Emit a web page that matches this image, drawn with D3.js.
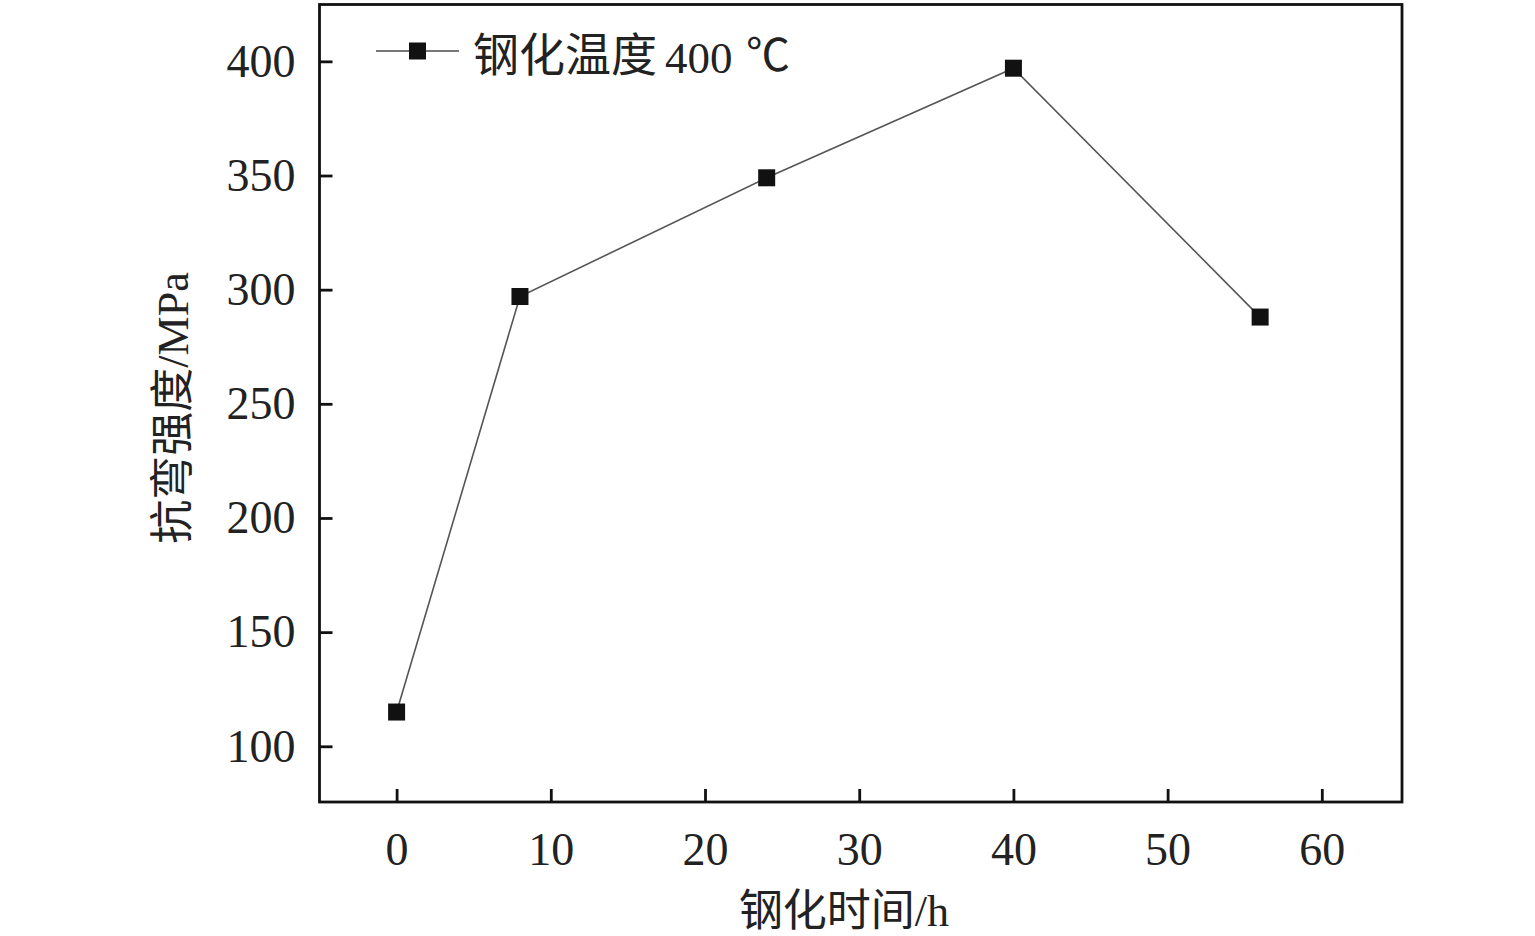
<!DOCTYPE html>
<html><head><meta charset="utf-8">
<script src="https://cdn.jsdelivr.net/npm/d3@7"></script>
<style>body{margin:0;background:#fff}svg{display:block}</style>
</head><body>
<svg id="c" width="1535" height="936"></svg>
<script>
const timeH = [0, 8, 24, 40, 56];
const strength = [115, 297, 349, 397, 288];
const xTicks = [0, 10, 20, 30, 40, 50, 60];
const yTicks = [100, 150, 200, 250, 300, 350, 400];
const seriesName = ["钢化温度", "400", "℃"];
const xTitle = "钢化时间/h";
const yTitle = "抗弯强度/MPa";

const FONT = "'Liberation Serif','Times New Roman','Noto Sans CJK SC',serif";
const CJK = "'Noto Sans CJK SC',sans-serif";
const svg = d3.select("#c");
const L = 319.5, R = 1402, T = 4.5, B = 802;
const x = d3.scaleLinear().domain([-5, 65.2]).range([L, R]);
const y = d3.scaleLinear().domain([75.6, 424.9]).range([B, T]);

// frame
svg.append("rect").attr("x", L).attr("y", T).attr("width", R - L).attr("height", B - T)
  .attr("fill", "none").attr("stroke", "#111").attr("stroke-width", 2.8);

// axes
const xAxis = d3.axisBottom(x).tickValues(xTicks).tickSizeInner(-13).tickSizeOuter(0).tickPadding(30);
const gx = svg.append("g").attr("transform", `translate(0,${B})`).call(xAxis);
gx.select(".domain").remove();
gx.selectAll("line").attr("stroke", "#111").attr("stroke-width", 2.8);
gx.selectAll("text").attr("font-family", FONT).attr("font-size", 46).attr("fill", "#222");

const yAxis = d3.axisLeft(y).tickValues(yTicks).tickSizeInner(-13).tickSizeOuter(0).tickPadding(24);
const gy = svg.append("g").attr("transform", `translate(${L},0)`).call(yAxis);
gy.select(".domain").remove();
gy.selectAll("line").attr("stroke", "#111").attr("stroke-width", 2.8);
gy.selectAll("text").attr("font-family", FONT).attr("font-size", 46).attr("fill", "#222");

// line
const pts = timeH.map((t, i) => [t, strength[i]]);
svg.append("path").datum(pts)
  .attr("d", d3.line().x(d => x(d[0])).y(d => y(d[1])))
  .attr("fill", "none").attr("stroke", "#555").attr("stroke-width", 1.6);

const S = 17;
svg.selectAll("rect.m").data(pts).enter().append("rect").attr("class", "m")
  .attr("x", d => x(d[0]) - S / 2).attr("y", d => y(d[1]) - S / 2)
  .attr("width", S).attr("height", S).attr("fill", "#111");

// legend
const lg = svg.append("g");
lg.append("line").attr("x1", 376).attr("x2", 459).attr("y1", 51).attr("y2", 51)
  .attr("stroke", "#777").attr("stroke-width", 1.8);
lg.append("rect").attr("x", 417.5 - S / 2).attr("y", 51 - S / 2).attr("width", S).attr("height", S).attr("fill", "#111");
lg.append("text").attr("x", 473).attr("y", 71).attr("font-size", 46).attr("fill", "#222")
  .attr("font-family", CJK).text(seriesName[0]);
lg.append("text").attr("x", 665).attr("y", 73).attr("font-size", 45).attr("fill", "#222")
  .attr("font-family", "'Liberation Serif',serif").text(seriesName[1]);
lg.append("text").attr("x", 746).attr("y", 71).attr("font-size", 44).attr("fill", "#222")
  .attr("font-family", CJK).text(seriesName[2]);

// titles
svg.append("text").attr("x", 844).attr("y", 926).attr("text-anchor", "middle")
  .attr("font-family", FONT).attr("font-size", 44).attr("fill", "#222").text(xTitle);
svg.append("text").attr("transform", "translate(188,408) rotate(-90)").attr("text-anchor", "middle")
  .attr("font-family", FONT).attr("font-size", 44).attr("fill", "#222").text(yTitle);
</script>
</body></html>
